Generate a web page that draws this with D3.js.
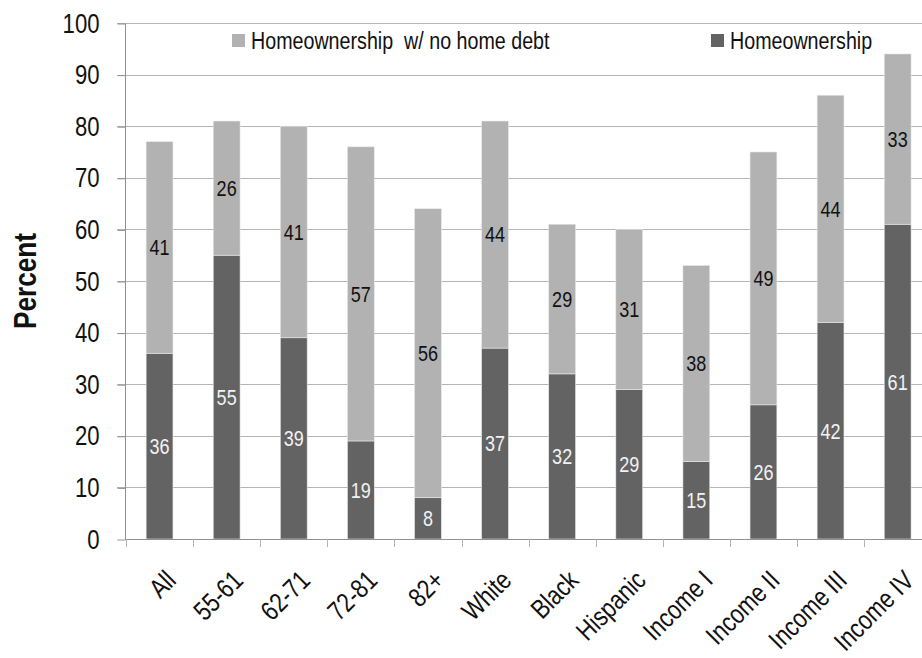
<!DOCTYPE html>
<html lang="en">
  <head>
    <title>Homeownership</title>
    <meta charset="utf-8">
    <style>
      body { margin: 0; background: #fff; }
      text { font-family: "Liberation Sans", Arial, sans-serif; }
    </style>
  </head>
  <body>
<svg width="922" height="658"></svg>
<script src="https://d3js.org/d3.v7.min.js"></script>
<script>

var categories = ["All", "55-61", "62-71", "72-81", "82+", "White", "Black", "Hispanic", "Income I", "Income II", "Income III", "Income IV"];
var homeownership = [36, 55, 39, 19, 8, 37, 32, 29, 15, 26, 42, 61]; // dark, bottom
var noDebt = [41, 26, 41, 57, 56, 44, 29, 31, 38, 49, 44, 33]; // light, top
var yTicks = [0, 10, 20, 30, 40, 50, 60, 70, 80, 90, 100];

var svg = d3.select("svg"),
    x0 = 126, yTop = 23, yBottom = 539,
    squeeze = 0.82; // fake an Arial Narrow look

var x = d3.scaleBand()
    .domain(categories)
    .range([x0, x0 + 67.1 * categories.length])
    .paddingInner(0.6).paddingOuter(0.3);
var band = d3.scaleBand().domain(categories).range(x.range());

var y = d3.scaleLinear().domain([0, 100]).range([yBottom, yTop]);

function label(parent, tx, ty, rot) {
  return parent.append("text")
    .attr("transform", "translate(" + tx + "," + ty + ")" + (rot ? " rotate(" + rot + ")" : "") + " scale(" + squeeze + ",1)");
}

// gridlines
svg.append("g").selectAll("line").data(yTicks.filter(function(d) { return d > 0; }))
  .enter().append("line")
    .attr("x1", 117).attr("x2", 922)
    .attr("y1", function(d) { return Math.round(y(d)) + 0.5; })
    .attr("y2", function(d) { return Math.round(y(d)) + 0.5; })
    .attr("stroke", "#b4b4b4");

// y axis
var yAxis = svg.append("g").attr("transform", "translate(125.5,0.5)")
    .call(d3.axisLeft(y).tickValues(yTicks).tickSize(8).tickPadding(18));
yAxis.select(".domain").attr("stroke", "#909090").attr("d", "M0," + y(100) + "V" + y(0));
yAxis.selectAll(".tick line").attr("stroke", "#909090");
yAxis.selectAll("text").attr("font-size", 27).attr("fill", "#111")
    .attr("font-family", "'Liberation Sans', Arial, sans-serif")
    .attr("transform", "scale(" + squeeze + ",1)").attr("x", -26 / squeeze);

// bars
var g = svg.append("g");
categories.forEach(function(c, i) {
  var bx = x(c), bw = x.bandwidth();
  g.append("rect").attr("x", bx).attr("width", bw)
    .attr("y", y(homeownership[i])).attr("height", y(0) - y(homeownership[i]))
    .attr("fill", "#636363").attr("stroke", "#e8e8e8").attr("stroke-width", 0.6);
  g.append("rect").attr("x", bx).attr("width", bw)
    .attr("y", y(homeownership[i] + noDebt[i])).attr("height", y(homeownership[i]) - y(homeownership[i] + noDebt[i]))
    .attr("fill", "#b2b2b2").attr("stroke", "#e8e8e8").attr("stroke-width", 0.6);
  label(g, bx + bw / 2, y(homeownership[i] / 2)).attr("dy", "0.36em")
    .attr("text-anchor", "middle").attr("font-size", 22).attr("fill", "#f2f2f2").text(homeownership[i]);
  label(g, bx + bw / 2, y(homeownership[i] + noDebt[i] / 2)).attr("dy", "0.36em")
    .attr("text-anchor", "middle").attr("font-size", 22).attr("fill", "#111").text(noDebt[i]);
});

// x axis
var xAxis = svg.append("g");
xAxis.append("line").attr("x1", 125).attr("x2", 922)
    .attr("y1", yBottom + 0.5).attr("y2", yBottom + 0.5).attr("stroke", "#909090");
xAxis.selectAll(".tk").data(d3.range(categories.length + 1)).enter().append("line")
    .attr("x1", function(i) { return Math.round(band.range()[0] + i * band.step()) + 0.5; })
    .attr("x2", function(i) { return Math.round(band.range()[0] + i * band.step()) + 0.5; })
    .attr("y1", yBottom).attr("y2", yBottom + 8).attr("stroke", "#b4b4b4");
categories.forEach(function(c) {
  label(xAxis, band(c) + band.bandwidth() / 2 + 18, yBottom + 43, -45)
    .attr("text-anchor", "end").attr("font-size", 27).attr("fill", "#111").text(c);
});

// y title
label(svg, 36, 281, -90)
    .attr("text-anchor", "middle").attr("font-size", 32).attr("font-weight", "bold").attr("fill", "#111")
    .text("Percent");

// legend
var legend = [
  {label: "Homeownership  w/ no home debt", color: "#b2b2b2", x: 232},
  {label: "Homeownership", color: "#636363", x: 711}
];
legend.forEach(function(l) {
  svg.append("rect").attr("x", l.x).attr("y", 34).attr("width", 13).attr("height", 13).attr("fill", l.color);
  label(svg, l.x + 19, 49).attr("font-size", 24).attr("fill", "#111")
    .attr("xml:space", "preserve").style("white-space", "pre").text(l.label);
});

</script>
  </body>
</html>
